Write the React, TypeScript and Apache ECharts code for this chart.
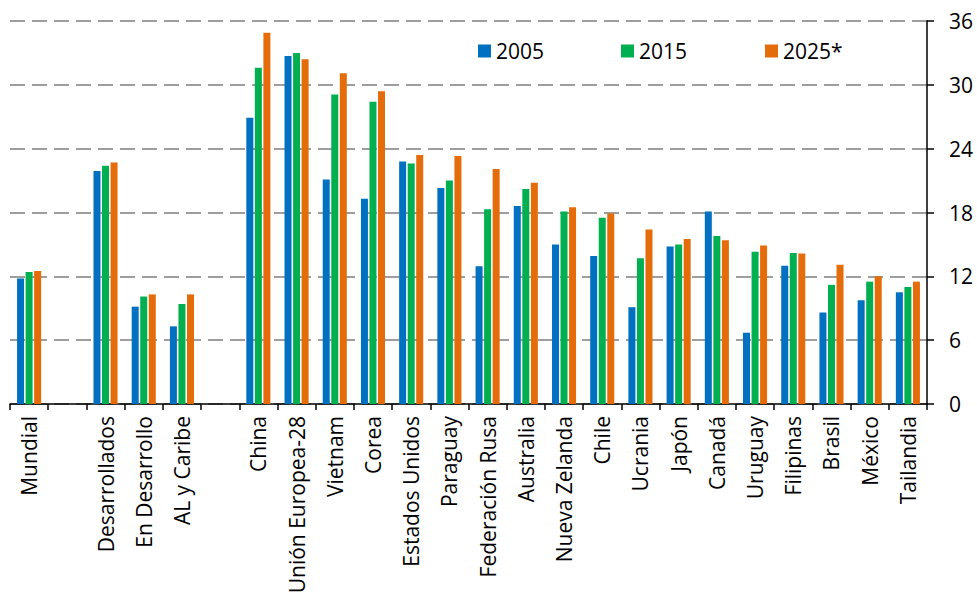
import React, { useEffect, useRef } from "react";
import * as echarts from "echarts";

const categories = [
  "Mundial", "", "Desarrollados", "En Desarrollo", "AL y Caribe", " ",
  "China", "Unión Europea-28", "Vietnam", "Corea", "Estados Unidos", "Paraguay",
  "Federación Rusa", "Australia", "Nueva Zelanda", "Chile", "Ucrania", "Japón",
  "Canadá", "Uruguay", "Filipinas", "Brasil", "México", "Tailandia",
];

const v2005 = [
  11.8, null, 21.9, 9.15, 7.3, null,
  26.9, 32.7, 21.1, 19.3, 22.8, 20.3,
  12.95, 18.6, 15.0, 13.9, 9.1, 14.8,
  18.1, 6.7, 13.0, 8.6, 9.75, 10.5,
];
const v2015 = [
  12.4, null, 22.4, 10.1, 9.4, null,
  31.6, 33.0, 29.1, 28.4, 22.6, 21.0,
  18.3, 20.2, 18.1, 17.5, 13.7, 15.0,
  15.8, 14.3, 14.2, 11.2, 11.5, 11.0,
];
const v2025 = [
  12.5, null, 22.7, 10.3, 10.3, null,
  34.9, 32.4, 31.1, 29.4, 23.4, 23.3,
  22.1, 20.8, 18.5, 17.9, 16.4, 15.5,
  15.4, 14.9, 14.15, 13.1, 12.0, 11.5,
];

const seriesNames = ["2005", "2015", "2025*"];
const colors = ["#0070C0", "#00B050", "#E46C0A"];
const yTicks = { min: 0, max: 36, interval: 6 };

const FONT = "Open Sans";
const FS = 21;

export default function App() {
  const ref = useRef<HTMLDivElement>(null);
  useEffect(() => {
    if (!ref.current) return;
    const chart = echarts.init(ref.current, undefined, { renderer: "svg" });
    const data = [v2005, v2015, v2025];
    const legendLefts = [478, 621, 765];
    chart.setOption({
      animation: false,
      backgroundColor: "#ffffff",
      textStyle: { fontFamily: FONT },
      legend: seriesNames.map((n, i) => ({
        data: [n],
        left: legendLefts[i],
        top: 40,
        padding: 0,
        icon: "rect",
        itemWidth: 13,
        itemHeight: 13,
        itemGap: 0,
        textStyle: { fontFamily: FONT, fontSize: FS, color: "#000", lineHeight: 22 },
      })),
      grid: {
        left: 10,
        top: 21,
        width: 917,
        height: 383,
        containLabel: false,
        outerBoundsMode: "none",
      },
      xAxis: {
        type: "category",
        data: categories,
        boundaryGap: true,
        axisLine: { show: true, lineStyle: { color: "#000", width: 1.5 } },
        axisTick: { show: true, length: 6, lineStyle: { color: "#000", width: 1.5 } },
        axisLabel: {
          interval: 0,
          rotate: 90,
          margin: 12,
          fontFamily: FONT,
          fontSize: FS,
          color: "#000",
        },
      },
      yAxis: {
        type: "value",
        position: "right",
        min: yTicks.min,
        max: yTicks.max,
        interval: yTicks.interval,
        axisLine: { show: true, lineStyle: { color: "#000", width: 1.5 } },
        axisTick: { show: true, inside: false, length: 7, lineStyle: { color: "#000", width: 1.5 } },
        axisLabel: { margin: 22, fontFamily: FONT, fontSize: FS, color: "#000" },
        splitLine: { show: true, lineStyle: { color: "#9e9e9e", width: 2, type: [15, 7] } },
      },
      series: seriesNames.map((n, i) => ({
        name: n,
        type: "bar",
        data: data[i],
        barWidth: 7,
        barGap: "22%",
        itemStyle: { color: colors[i] },
      })),
    });
    return () => chart.dispose();
  }, []);
  return (
    <div
      ref={ref}
      style={{ position: "absolute", left: 0, top: 0, width: 977, height: 592, overflow: "hidden" }}
    />
  );
}
